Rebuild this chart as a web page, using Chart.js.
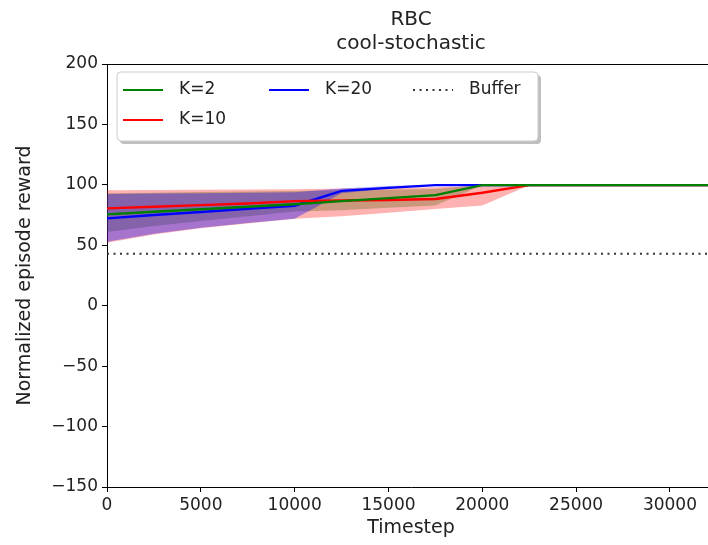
<!DOCTYPE html>
<html lang="en">

<head>
    <meta charset="UTF-8">
    <title>RBC cool-stochastic</title>
    <script src="https://cdn.jsdelivr.net/npm/chart.js"></script>
    <style>
        body { margin: 0; overflow: hidden; background: #fff; }
        #box { width: 716px; height: 545px; }
    </style>
</head>

<body>
    <div id="box"><canvas id="myChart" width="716" height="545"></canvas></div>
</body>

<script>
    // dados
    var timesteps = [0, 2500, 5000, 7500, 10000, 12500, 15000, 17500, 20000, 22500, 25000, 27500, 30000, 32500];

    var mediaK2  = [75.6, 77.7, 79.8, 81.9, 84, 86.5, 89, 91.5, 99.8, 99.8, 99.8, 99.8, 99.8, 99.8];
    var infK2    = [61, 66, 70, 74, 78, 79, 81, 83, 99.6, 99.6, 99.6, 99.6, 99.6, 99.6];
    var supK2    = [93, 93.5, 94, 94.5, 95, 95.5, 96, 96.5, 100, 100, 100, 100, 100, 100];

    var mediaK10 = [80.5, 81.9, 83.2, 84.6, 86.5, 87, 87.5, 88.3, 93.5, 99.8, 99.8, 99.8, 99.8, 99.8];
    var infK10   = [52, 59, 64, 68, 72, 74, 77, 80, 83, 99.6, 99.6, 99.6, 99.6, 99.6];
    var supK10   = [95.5, 95.7, 95.9, 96.1, 96.4, 97, 97.5, 98, 99, 100, 100, 100, 100, 100];

    var mediaK20 = [72.3, 75, 77.6, 80.2, 82.7, 95, 97.5, 99.8, 99.8, 99.8, 99.8, 99.8, 99.8, 99.8];
    var infK20   = [53, 59.5, 64.5, 68.5, 72, 93, 97, 99.6, 99.6, 99.6, 99.6, 99.6, 99.6, 99.6];
    var supK20   = [92.5, 92.8, 93.1, 93.4, 93.8, 97, 99, 100, 100, 100, 100, 100, 100, 100];

    var buffer = 43;

    var rotulos = ['K=2', 'K=10', 'K=20'];
    var rotuloBuffer = 'Buffer';
    var cores = ['#008000', '#ff0000', '#0000ff'];
    var coresFaixa = ['rgba(0,128,0,0.3)', 'rgba(255,0,0,0.3)', 'rgba(0,0,255,0.35)'];

    var yTicks = [-150, -100, -50, 0, 50, 100, 150, 200];
    var xTicks = [0, 5000, 10000, 15000, 20000, 25000, 30000];
    var xMax = 32400;

    var titulo = ['RBC', 'cool-stochastic'];

    var fonte = 'DejaVu Sans';
    var corTexto = '#222';

    function pontos(valores) {
        return timesteps.map((t, i) => ({ x: t, y: valores[i] }));
    }

    var medias = [mediaK2, mediaK10, mediaK20];
    var infs = [infK2, infK10, infK20];
    var sups = [supK2, supK10, supK20];

    // no Chart.js order maior desenha primeiro: faixa K=20 por cima, linha K=2 por cima
    var datasets = [];
    for (var k = 0; k < 3; k++) {
        datasets.push({
            label: 'inf ' + rotulos[k],
            data: pontos(infs[k]),
            borderWidth: 0,
            pointRadius: 0,
            fill: false,
            order: 10 - k
        });
        datasets.push({
            label: 'sup ' + rotulos[k],
            data: pontos(sups[k]),
            borderWidth: 0,
            pointRadius: 0,
            backgroundColor: coresFaixa[k],
            fill: '-1',
            order: 10 - k
        });
    }
    for (var k = 0; k < 3; k++) {
        datasets.push({
            label: rotulos[k],
            data: pontos(medias[k]),
            borderColor: cores[k],
            borderWidth: 2.4,
            pointRadius: 0,
            fill: false,
            order: 1 + k
        });
    }
    datasets.push({
        label: rotuloBuffer,
        data: timesteps.map(t => ({ x: t, y: buffer })),
        borderColor: '#333',
        borderWidth: 2,
        borderDash: [2, 4.5],
        pointRadius: 0,
        fill: false,
        order: 0
    });

    // titulo centralizado na area do grafico, contorno de cima e legenda estilo matplotlib
    const extras = {
        id: 'extras',
        afterDraw(chart) {
            const ctx = chart.ctx;
            const a = chart.chartArea;
            ctx.save();

            // contorno superior
            ctx.strokeStyle = '#000';
            ctx.lineWidth = 1;
            ctx.beginPath();
            ctx.moveTo(a.left, a.top + 0.5);
            ctx.lineTo(a.right, a.top + 0.5);
            ctx.stroke();

            // titulo
            ctx.fillStyle = corTexto;
            ctx.font = '20px "' + fonte + '"';
            ctx.textAlign = 'center';
            ctx.textBaseline = 'middle';
            const cx = (a.left + a.right) / 2;
            ctx.fillText(titulo[0], cx, 20);
            ctx.fillText(titulo[1], cx, 44);

            // legenda
            const lx = 117, ly = 72, lw = 421, lh = 69;
            ctx.fillStyle = 'rgba(0,0,0,0.25)';
            roundRect(ctx, lx + 3, ly + 3, lw, lh, 4);
            ctx.fill();
            ctx.fillStyle = '#fff';
            ctx.strokeStyle = '#cccccc';
            roundRect(ctx, lx, ly, lw, lh, 4);
            ctx.fill();
            ctx.stroke();

            const itens = [
                { txt: rotulos[0], cor: cores[0], x: 123, y: 90 },
                { txt: rotulos[1], cor: cores[1], x: 123, y: 120 },
                { txt: rotulos[2], cor: cores[2], x: 269, y: 90 },
                { txt: rotuloBuffer, cor: '#333', x: 413, y: 90, dash: true }
            ];
            ctx.font = '17px "' + fonte + '"';
            ctx.textAlign = 'left';
            itens.forEach(it => {
                ctx.strokeStyle = it.cor;
                ctx.lineWidth = 2;
                ctx.setLineDash(it.dash ? [2, 4.5] : []);
                ctx.beginPath();
                ctx.moveTo(it.x, it.y);
                ctx.lineTo(it.x + 40, it.y);
                ctx.stroke();
                ctx.setLineDash([]);
                ctx.fillStyle = corTexto;
                ctx.fillText(it.txt, it.x + 56, it.y);
            });

            ctx.restore();
        }
    };

    function roundRect(ctx, x, y, w, h, r) {
        ctx.beginPath();
        ctx.moveTo(x + r, y);
        ctx.lineTo(x + w - r, y);
        ctx.arcTo(x + w, y, x + w, y + r, r);
        ctx.lineTo(x + w, y + h - r);
        ctx.arcTo(x + w, y + h, x + w - r, y + h, r);
        ctx.lineTo(x + r, y + h);
        ctx.arcTo(x, y + h, x, y + h - r, r);
        ctx.lineTo(x, y + r);
        ctx.arcTo(x, y, x + r, y, r);
        ctx.closePath();
    }

    const config = {
        type: 'line',
        data: { datasets: datasets },
        options: {
            responsive: false,
            animation: false,
            layout: { padding: { top: 64, right: 1, left: 0, bottom: 0 } },
            plugins: {
                legend: { display: false },
                title: { display: false },
                tooltip: { enabled: false },
                filler: { propagate: false }
            },
            scales: {
                x: {
                    type: 'linear',
                    min: 0,
                    max: xMax,
                    afterFit: s => { s.height = 58; },
                    afterBuildTicks: s => { s.ticks = xTicks.map(v => ({ value: v })); },
                    border: { display: true, color: '#000', width: 1 },
                    grid: { drawOnChartArea: false, drawTicks: true, tickLength: 5, color: '#000' },
                    ticks: {
                        color: corTexto,
                        font: { family: fonte, size: 17 },
                        padding: 3,
                        maxRotation: 0,
                        callback: v => String(v)
                    },
                    title: {
                        display: true,
                        text: 'Timestep',
                        color: corTexto,
                        font: { family: fonte, size: 19 },
                        padding: { top: 0, bottom: 6 }
                    }
                },
                y: {
                    type: 'linear',
                    min: -150,
                    max: 200,
                    afterFit: s => { s.width = 107; },
                    afterBuildTicks: s => { s.ticks = yTicks.map(v => ({ value: v })); },
                    border: { display: true, color: '#000', width: 1 },
                    grid: { drawOnChartArea: false, drawTicks: true, tickLength: 5, color: '#000' },
                    ticks: {
                        color: corTexto,
                        font: { family: fonte, size: 17 },
                        padding: 4,
                        callback: v => String(v).replace('-', '\u2212')
                    },
                    title: {
                        display: true,
                        text: 'Normalized episode reward',
                        color: corTexto,
                        font: { family: fonte, size: 19 },
                        padding: { top: 14, bottom: 0 }
                    }
                }
            }
        },
        plugins: [extras]
    };

    let myChart = new Chart(document.getElementById('myChart'), config);
</script>

</html>
